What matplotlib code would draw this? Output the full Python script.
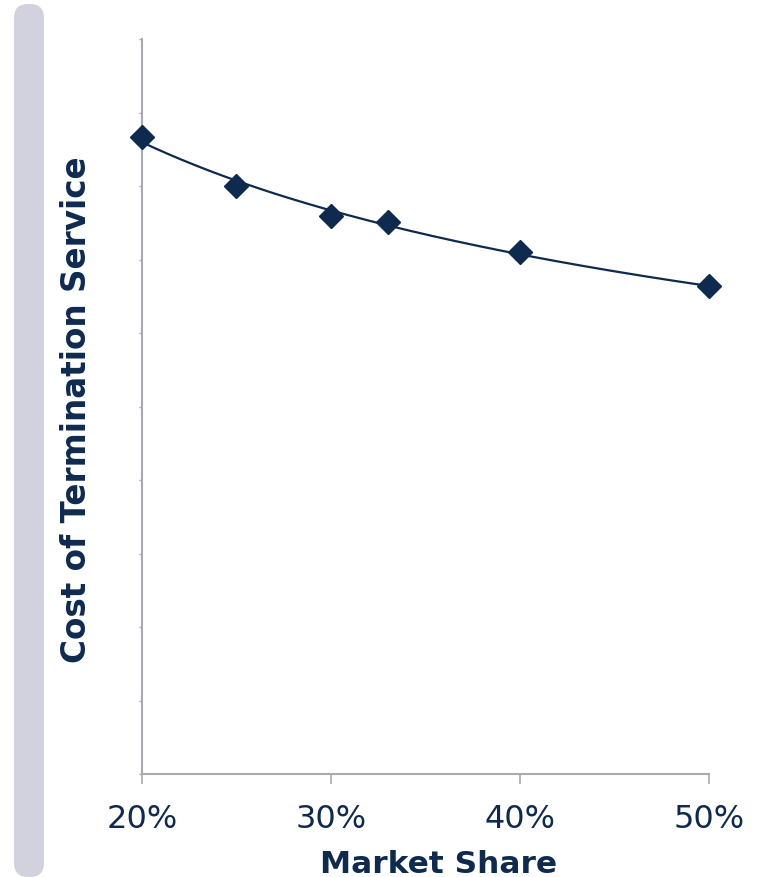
import matplotlib
matplotlib.use("Agg")
import matplotlib.pyplot as plt
from matplotlib.patches import FancyBboxPatch
import numpy as np

# Data
market_share = [0.20, 0.25, 0.30, 0.33, 0.40, 0.50]
cost = [8.67, 8.00, 7.59, 7.51, 7.10, 6.64]
x_ticks = [0.20, 0.30, 0.40, 0.50]
x_tick_labels = ["20%", "30%", "40%", "50%"]

NAVY = "#0f2a4f"
AXIS_GRAY = "#a9a9b1"
BAR_GRAY = "#d1d2dd"

fig = plt.figure(figsize=(7.62, 8.78), dpi=100)

# Decorative rounded bar at left
bar = FancyBboxPatch((0.14, 0.0), 0.30, 8.73,
                     boxstyle="round,pad=0,rounding_size=0.14",
                     transform=fig.dpi_scale_trans, facecolor=BAR_GRAY,
                     edgecolor="none", zorder=0)
fig.patches.append(bar)

ax = fig.add_axes([142 / 762, 1 - 775 / 878, (709 - 142) / 762, (775 - 40) / 878])
ax.set_xlim(0.20, 0.50)
ax.set_ylim(0, 10)

# Power trendline fitted to the data points
xs = np.array(market_share)
ys = np.array(cost)
b, lna = np.polyfit(np.log(xs), np.log(ys), 1)
xt = np.linspace(xs.min(), xs.max(), 200)
yt = np.exp(lna) * xt ** b
ax.plot(xt, yt, color=NAVY, lw=1.6, zorder=2, clip_on=False)
ax.plot(market_share, cost, linestyle="none", marker="D", ms=12,
        color=NAVY, zorder=3, clip_on=False)

# Axes styling
for s in ["top", "right"]:
    ax.spines[s].set_visible(False)
for s in ["left", "bottom"]:
    ax.spines[s].set_color(AXIS_GRAY)
    ax.spines[s].set_linewidth(1.5)

ax.set_xticks(x_ticks)
ax.set_xticklabels(x_tick_labels)
ax.set_yticks(np.arange(0, 11, 1))
ax.set_yticklabels([])
ax.tick_params(axis="x", direction="out", length=7, width=1.2, color=AXIS_GRAY,
               labelsize=23, labelcolor=NAVY, pad=14)
ax.tick_params(axis="y", direction="out", length=2.5, width=1.0, color=AXIS_GRAY)

fig.text(439 / 762, 1 - 873 / 878, "Market Share", fontsize=22.5,
         fontweight="bold", color=NAVY, ha="center", va="baseline")
fig.text(77 / 762, 1 - 410 / 878, "Cost of Termination Service", rotation=90,
         fontsize=23.5, fontweight="bold", color=NAVY, ha="center", va="center")

fig.savefig("out.png", dpi=100)
